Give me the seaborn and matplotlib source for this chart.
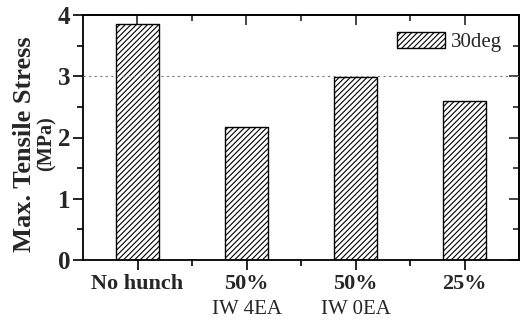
import matplotlib
matplotlib.use("Agg")
import matplotlib.pyplot as plt
import seaborn as sns
import pandas as pd
from matplotlib.ticker import MultipleLocator, FixedLocator
from matplotlib.patches import Patch
import matplotlib.transforms as mtransforms

categories = ["No hunch", "50%", "50% ", "25%"]
sublabels = ["", "IW 4EA", "IW 0EA", ""]
values = [3.85, 2.17, 2.99, 2.60]
series_name = "30deg"
ref_line = 3.0

sns.set_theme(style="white")
plt.rcParams['font.family'] = ['Liberation Serif', 'DejaVu Serif']
plt.rcParams['hatch.linewidth'] = 0.8
plt.rcParams['hatch.color'] = '#222222'

HATCH = "//////"

df = pd.DataFrame({"cat": categories, "val": values})

fig = plt.figure(figsize=(5.24, 3.25), dpi=100)
ax = fig.add_axes([83/524, 1-260/325, (519-83)/524, (260-15)/325])

sns.barplot(data=df, x="cat", y="val", color="white", edgecolor="black",
            linewidth=1.0, width=0.4, ax=ax, zorder=2)
for p in ax.patches:
    p.set_hatch(HATCH)
    p.set_facecolor("white")
    p.set_edgecolor("black")

ax.axhline(ref_line, color="#777777", lw=0.8, ls=(0, (2, 3)), zorder=3)

ax.set_xlim(-0.5, 3.5)
ax.set_ylim(0, 4)
ax.set_xlabel("")
ax.set_ylabel("")

ax.yaxis.set_major_locator(MultipleLocator(1))
ax.yaxis.set_minor_locator(MultipleLocator(0.5))
ax.xaxis.set_minor_locator(FixedLocator([0.5, 1.5, 2.5]))
ax.set_xticks(range(len(categories)))
ax.set_xticklabels([c.strip() for c in categories], fontsize=16, fontweight="bold")
for lab in ax.get_yticklabels():
    lab.set_fontsize(18)
    lab.set_fontweight("bold")

ax.tick_params(axis="both", which="major", direction="out", length=7, width=1.2,
               color="black", pad=2, bottom=True, left=True)
ax.tick_params(axis="both", which="minor", direction="out", length=4, width=1.2,
               color="black", bottom=True, left=True)
ax.tick_params(axis="x", which="major", pad=3)

for s in ax.spines.values():
    s.set_visible(True)
    s.set_linewidth(1.3)
    s.set_color("black")

# mirrored ticks (inward) on top and right
secx = ax.secondary_xaxis("top")
secx.set_xticks(range(len(categories)))
secx.xaxis.set_minor_locator(FixedLocator([0.5, 1.5, 2.5]))
secx.tick_params(which="major", direction="in", length=7, width=1.2, labeltop=False)
secx.tick_params(which="minor", direction="in", length=4, width=1.2)
secx.spines["top"].set_linewidth(1.3)
secy = ax.secondary_yaxis("right")
secy.yaxis.set_major_locator(MultipleLocator(1))
secy.yaxis.set_minor_locator(MultipleLocator(0.5))
secy.tick_params(which="major", direction="in", length=7, width=1.2, labelright=False)
secy.tick_params(which="minor", direction="in", length=4, width=1.2)
secy.spines["right"].set_linewidth(1.3)

trans = mtransforms.blended_transform_factory(ax.transData, ax.transAxes)
for i, s in enumerate(sublabels):
    if s:
        ax.text(i, (260-309)/245, s, transform=trans, ha="center", va="center",
                fontsize=15)

fig.text(25/524, 1-144/325, "Max. Tensile Stress", rotation=90, ha="center",
         va="center", fontsize=19, fontweight="bold")
fig.text(47/524, 1-144/325, "(MPa)", rotation=90, ha="center", va="center",
         fontsize=14.5, fontweight="bold")

handle = Patch(facecolor="white", edgecolor="black", hatch=HATCH, linewidth=1.0,
               label=series_name)
ax.legend(handles=[handle], loc="upper right", frameon=False, fontsize=15,
          handlelength=2.3, handleheight=0.85, handletextpad=0.3,
          borderaxespad=0.4, bbox_to_anchor=(1.0, 1.0))

fig.savefig("out.png", dpi=100)
